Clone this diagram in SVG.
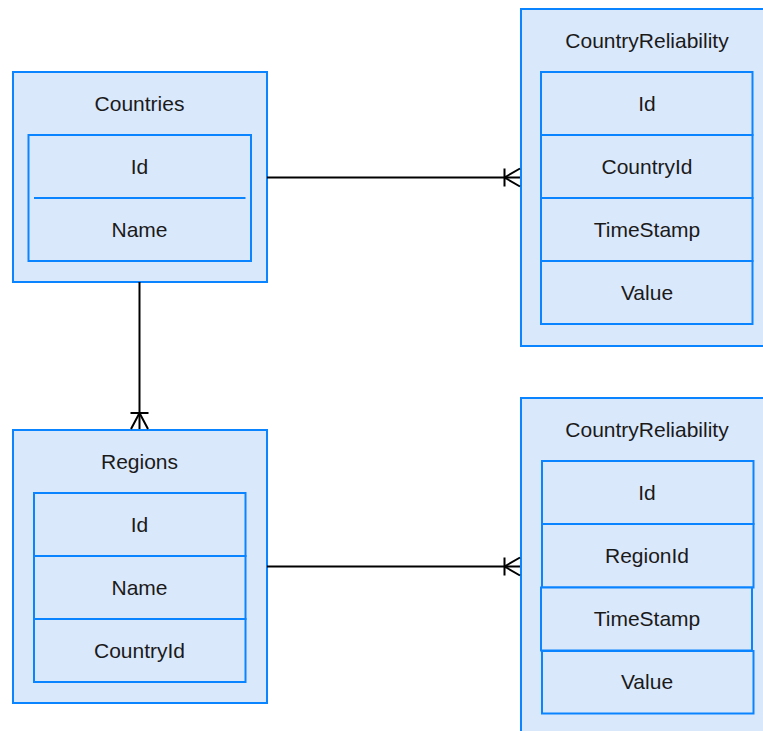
<svg xmlns="http://www.w3.org/2000/svg" width="763" height="731" viewBox="0 0 763 731">
<style>
.box{fill:#dae8fc;stroke:#0a84ff;stroke-width:2}
.cell{fill:#dae8fc;stroke:#0a84ff;stroke-width:2}
.sep{stroke:#0a84ff;stroke-width:2}
text{font-family:"Liberation Sans",Arial,sans-serif;font-size:21px;fill:#1a1a1a;text-anchor:middle;dominant-baseline:central}
.edge{stroke:#000;stroke-width:2;fill:none}
</style>
<rect width="763" height="731" fill="#ffffff"/>
<g id="countries">
<rect class="box" x="13" y="72" width="254" height="210"/>
<text x="139.5" y="103">Countries</text>
<rect class="cell" x="28.5" y="135" width="222.5" height="126"/>
<line class="sep" x1="34" y1="198" x2="245.5" y2="198"/>
<text x="139.5" y="166">Id</text>
<text x="139.5" y="229">Name</text>
</g>
<g id="regions">
<rect class="box" x="13" y="430" width="254" height="273"/>
<text x="139.5" y="461">Regions</text>
<rect class="cell" x="34" y="493" width="211.5" height="63"/>
<rect class="cell" x="34" y="556" width="211.5" height="63"/>
<rect class="cell" x="34" y="619" width="211.5" height="63"/>
<text x="139.5" y="524">Id</text>
<text x="139.5" y="587">Name</text>
<text x="139.5" y="650">CountryId</text>
</g>
<g id="countryreliability1">
<rect class="box" x="521" y="9" width="262" height="337"/>
<text x="647" y="40">CountryReliability</text>
<rect class="cell" x="541" y="72" width="211.5" height="63"/>
<rect class="cell" x="541" y="135" width="211.5" height="63"/>
<rect class="cell" x="541" y="198" width="211.5" height="63"/>
<rect class="cell" x="541" y="261" width="211.5" height="63"/>
<text x="647" y="103">Id</text>
<text x="647" y="166">CountryId</text>
<text x="647" y="229">TimeStamp</text>
<text x="647" y="292">Value</text>
</g>
<g id="countryreliability2">
<rect class="box" x="521" y="398" width="262" height="350"/>
<text x="647" y="429">CountryReliability</text>
<rect class="cell" x="542" y="461" width="211.5" height="63"/>
<rect class="cell" x="542" y="524" width="211.5" height="63.5"/>
<rect class="cell" x="541" y="587.5" width="211" height="63"/>
<rect class="cell" x="542" y="651" width="211.5" height="62.5"/>
<text x="647" y="492">Id</text>
<text x="647" y="555">RegionId</text>
<text x="647" y="618">TimeStamp</text>
<text x="647" y="681">Value</text>
</g>
<g id="connectors">
<path class="edge" d="M267 177.5H520"/>
<path class="edge" d="M504.5 168.5V186.5M504.5 177.5L520 168.5M504.5 177.5L520 186.5"/>
<path class="edge" d="M139.5 282V429"/>
<path class="edge" d="M130.5 413H148.5M139.5 413L131 429M139.5 413L148 429"/>
<path class="edge" d="M267 566.5H520"/>
<path class="edge" d="M504.5 557.5V575.5M504.5 566.5L520 557.5M504.5 566.5L520 575.5"/>
</g>
</svg>
